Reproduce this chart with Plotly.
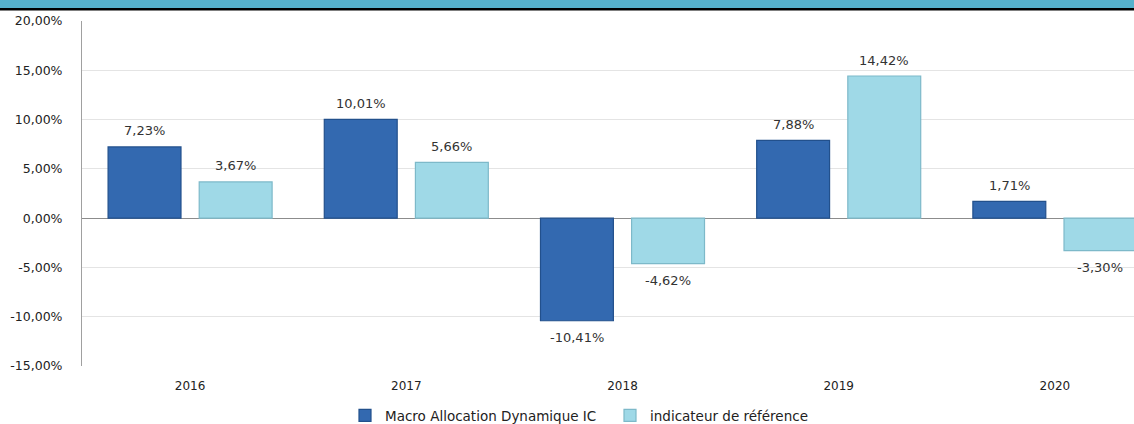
import plotly.graph_objects as go

years = ["2016", "2017", "2018", "2019", "2020"]
fund_name = "Macro Allocation Dynamique IC"
bench_name = "indicateur de référence"
fund_values = [7.23, 10.01, -10.41, 7.88, 1.71]
bench_values = [3.67, 5.66, -4.62, 14.42, -3.30]
y_ticks = [-15, -10, -5, 0, 5, 10, 15, 20]


def fmt(v):
    return f"{v:.2f}%".replace(".", ",")


fig = go.Figure()
fig.add_trace(go.Bar(
    x=years, y=fund_values, name=fund_name,
    marker=dict(color="#3369B0", line=dict(color="#22508C", width=1.2)),
))
fig.add_trace(go.Bar(
    x=years, y=bench_values, name=bench_name,
    marker=dict(color="#9FD9E7", line=dict(color="#7DB9C9", width=1.2)),
))

# data labels, placed at each bar's value through the axes (category index)
for vals, dx in ((fund_values, -45.5), (bench_values, 45.5)):
    for i, v in enumerate(vals):
        fig.add_annotation(
            x=i, y=v, xref="x", yref="y", text=fmt(v), showarrow=False,
            xshift=dx, yshift=16 if v >= 0 else -17, yanchor="middle",
            font=dict(family="DejaVu Sans", size=13, color="#333333"),
        )

W, H = 1134, 424
ml, mr, mt, mb = 82, 0, 21, 58
ph = H - mt - mb
pw = W - ml - mr

shapes = [
    dict(type="rect", xref="paper", yref="paper",
         x0=-ml / pw, x1=1 + 0.01, y0=1 + 13 / ph, y1=1 + 22 / ph,
         fillcolor="#56B1CC", line=dict(width=0), layer="above"),
    dict(type="rect", xref="paper", yref="paper",
         x0=-ml / pw, x1=1 + 0.01, y0=1 + 10.5 / ph, y1=1 + 13 / ph,
         fillcolor="#000000", line=dict(width=0), layer="above"),
]

fig.update_layout(
    width=W, height=H,
    margin=dict(l=ml, r=mr, t=mt, b=mb, autoexpand=False),
    paper_bgcolor="white", plot_bgcolor="white",
    barmode="group", bargap=0.157, bargroupgap=0.2,
    separators=", ",
    font=dict(family="DejaVu Sans", size=12, color="#222222"),
    showlegend=True,
    legend=dict(orientation="h", xref="container", yref="container",
                x=345 / W, xanchor="left", y=1 - 415.5 / H, yanchor="middle",
                font=dict(size=13.5, color="#222222"), itemwidth=30,
                entrywidthmode="pixels", entrywidth=220, traceorder="normal"),
    shapes=shapes,
    xaxis=dict(
        type="category", range=[-0.5, 4.5 - 29 / 216.25], automargin=False,
        showgrid=False, showline=False, ticks="", ticklabelstandoff=11,
        tickfont=dict(size=12, color="#222222"),
    ),
    yaxis=dict(
        range=[-15, 20], tickvals=[v for v in y_ticks], automargin=False,
        ticktext=[fmt(v) for v in y_ticks],
        showgrid=True, gridcolor="#E4E4E4", gridwidth=1,
        zeroline=True, zerolinecolor="#8C8C8C", zerolinewidth=1,
        showline=True, linecolor="#A0A0A0", linewidth=1,
        ticks="", ticklabelstandoff=16,
        tickfont=dict(size=12.5, color="#222222"),
    ),
)

fig.write_html(
    "out.html",
    config={"displayModeBar": False},
    post_script="document.body.style.margin='0';document.body.style.overflow='hidden';",
)
